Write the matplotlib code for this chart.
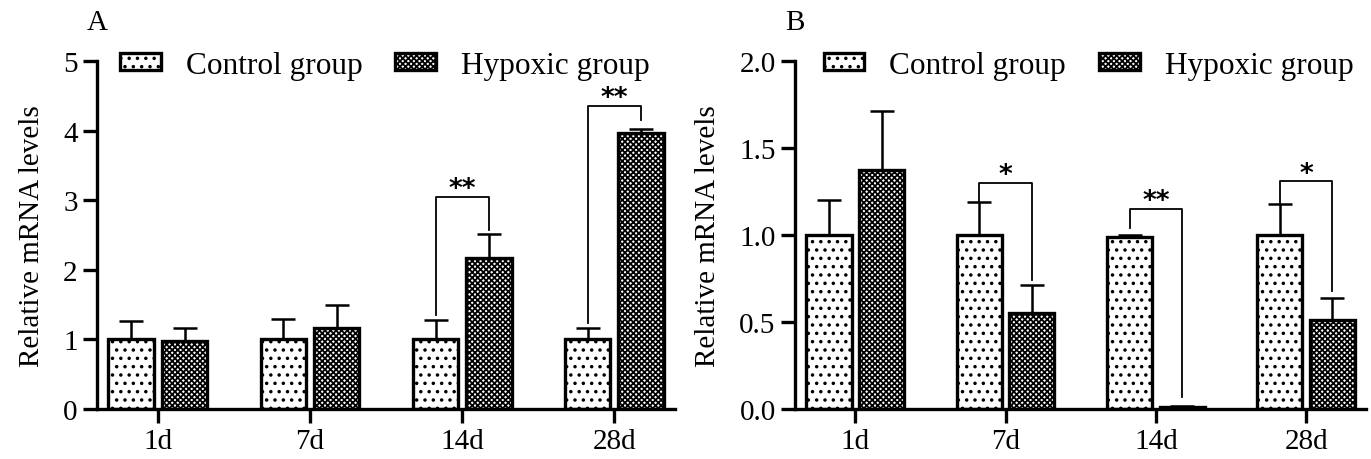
import matplotlib
matplotlib.use('Agg')
import matplotlib.pyplot as plt
import numpy as np

plt.rcParams['font.family'] = ['Liberation Serif', 'DejaVu Serif']
plt.rcParams['hatch.linewidth'] = 1.3

# data
days = ['1d', '7d', '14d', '28d']
groups = ['Control group', 'Hypoxic group']

a_ctrl = [1.00, 1.00, 1.01, 1.01]
a_ctrl_err = [0.27, 0.30, 0.27, 0.15]
a_hyp = [0.97, 1.17, 2.17, 3.96]
a_hyp_err = [0.20, 0.32, 0.34, 0.07]

b_ctrl = [1.00, 1.00, 0.99, 1.00]
b_ctrl_err = [0.20, 0.19, 0.01, 0.18]
b_hyp = [1.375, 0.55, 0.012, 0.51]
b_hyp_err = [0.335, 0.16, 0.005, 0.13]

# significance: (day index, label, bracket top, left leg bottom, right leg bottom)
a_sig = [(2, '**', 3.05, 1.35, 2.57), (3, '**', 4.36, 1.23, 4.15)]
b_sig = [(1, '*', 1.30, 1.19, 0.74), (2, '**', 1.15, 1.04, 0.07), (3, '*', 1.31, 1.18, 0.68)]

W = 0.30
OFF = 0.175


def draw_panel(ax, ctrl, ctrl_err, hyp, hyp_err, sig, ylim, yticks, yticklabels,
               letter, leg_x):
    x = np.arange(len(days))
    ax.bar(x - OFF, ctrl, W, facecolor='white', edgecolor='black',
           linewidth=2.4, hatch='..', label=groups[0], zorder=2)
    ax.bar(x + OFF, hyp, W, facecolor='white', edgecolor='black',
           linewidth=2.4, hatch='xxxxxx', label=groups[1], zorder=2)
    for xs, v, e in [(x - OFF, ctrl, ctrl_err), (x + OFF, hyp, hyp_err)]:
        ax.errorbar(xs, v, yerr=[np.zeros(len(v)), e], fmt='none',
                    ecolor='black', elinewidth=1.8, capsize=8.5,
                    capthick=1.8, zorder=1)

    # significance brackets
    for i, lab, top, lb, rb in sig:
        xl, xr = i - OFF, i + OFF
        ax.plot([xl, xl, xr, xr], [lb, top, top, rb], color='black',
                lw=1.3, zorder=3)
        ax.annotate(lab, (i, top), xytext=(0, -4), textcoords='offset points',
                    ha='center', va='bottom', fontsize=19, fontweight='bold',
                    fontfamily='DejaVu Sans')

    ax.set_xlim(-0.4, 3.4)
    ax.set_ylim(*ylim)
    ax.set_xticks(x)
    ax.set_xticklabels(days, fontsize=21)
    ax.set_yticks(yticks)
    ax.set_yticklabels(yticklabels, fontsize=21)
    ax.set_ylabel('Relative mRNA levels', fontsize=21, labelpad=13)
    ax.spines['top'].set_visible(False)
    ax.spines['right'].set_visible(False)
    ax.spines['left'].set_linewidth(2.4)
    ax.spines['bottom'].set_linewidth(2.4)
    ax.tick_params(axis='both', width=2.4, length=10, pad=4)

    ax.legend(loc='center left', bbox_to_anchor=(leg_x, 0.988), ncol=2,
              frameon=False, fontsize=22.5, handlelength=1.3, handleheight=0.5,
              handletextpad=0.8, columnspacing=1.05, borderaxespad=0,
              borderpad=0)
    ax.text(0.0, 1.075, letter, transform=ax.transAxes, fontsize=21,
            ha='center', va='bottom')


fig = plt.figure(figsize=(13.71, 4.60), dpi=100)
ax1 = fig.add_axes([0.0708, 0.1087, 0.4216, 0.7565])
ax2 = fig.add_axes([0.5800, 0.1087, 0.4165, 0.7565])

draw_panel(ax1, a_ctrl, a_ctrl_err, a_hyp, a_hyp_err, a_sig,
           (0, 5), [0, 1, 2, 3, 4, 5], ['0', '1', '2', '3', '4', '5'], 'A', 0.04)
draw_panel(ax2, b_ctrl, b_ctrl_err, b_hyp, b_hyp_err, b_sig,
           (0, 2.0), [0, 0.5, 1.0, 1.5, 2.0],
           ['0.0', '0.5', '1.0', '1.5', '2.0'], 'B', 0.05)

fig.savefig('out.png', dpi=100, facecolor='white')
